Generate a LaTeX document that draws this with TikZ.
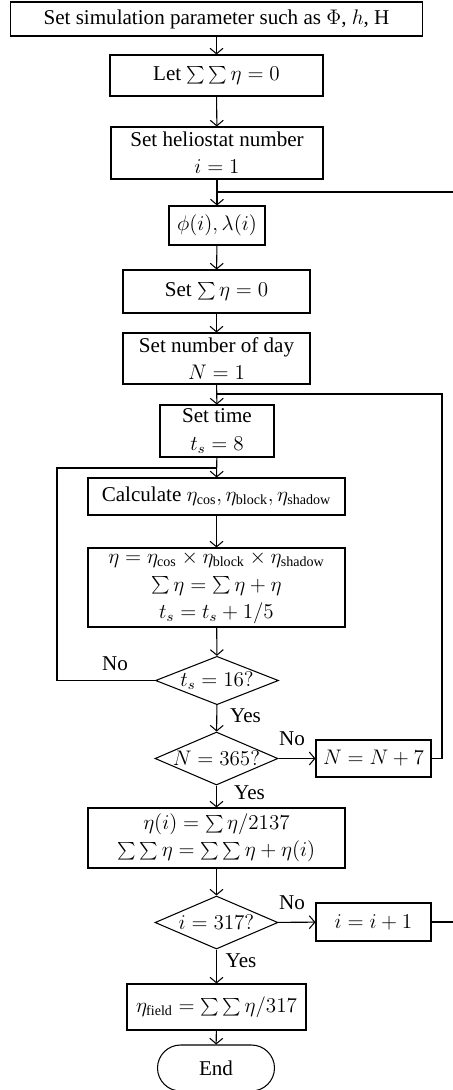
\documentclass[tikz,border=0pt]{standalone}
\usepackage{fontspec}
\setmainfont{Liberation Serif}
\usetikzlibrary{arrows.meta,positioning,shapes.geometric}
\tikzset{
  >={Straight Barb[length=1.1mm,width=2.6mm]},
  stepbox/.style={draw,line width=0.6pt,align=center,inner sep=1pt,
    font=\fontsize{12}{15.5}\selectfont},
  test/.style={diamond,draw,line width=0.6pt,inner sep=0pt,shape aspect=2.4,
    minimum width=24.6mm,font=\fontsize{12}{14}\selectfont},
  stop/.style={draw,line width=0.6pt,rounded corners=4.6mm,minimum width=23.4mm,
    minimum height=9.2mm,font=\fontsize{12}{14}\selectfont},
  flow/.style={->,line width=0.6pt},
  back/.style={line width=0.6pt},
  tag/.style={inner sep=0pt,font=\fontsize{12}{14}\selectfont},
}
\begin{document}
\begin{tikzpicture}[x=0.02cm,y=-0.02cm]
  \useasboundingbox (0,0) rectangle (453,1090);
  \clip (0,0) rectangle (453,1090);
  % main column
  \node[stepbox,minimum width=82.6mm,minimum height=6.8mm] (param) at (216.5,19) {Set simulation parameter such as $\Phi$, $h$, H};
  \node[stepbox,minimum width=42.6mm,minimum height=8.2mm] (total) at (216.5,75.5) {Let $\sum\sum\eta = 0$};
  \node[stepbox,minimum width=42.4mm,minimum height=10.4mm] (helio) at (217,153) {Set heliostat number\\$i = 1$};
  \node[stepbox,minimum width=19.2mm,minimum height=7.8mm] (coord) at (217,225.5) {$\phi(i),\lambda(i)$};
  \node[stepbox,minimum width=37.4mm,minimum height=8.6mm] (sum) at (216.5,291.5) {Set $\sum\eta = 0$};
  \node[stepbox,minimum width=37.4mm,minimum height=10.2mm] (day) at (216.5,358.5) {Set number of day\\$N = 1$};
  \node[stepbox,minimum width=22.8mm,minimum height=10.4mm] (time) at (217,431) {Set time\\$t_s = 8$};
  \node[stepbox,minimum width=51.4mm,minimum height=7.4mm] (calc) at (216.5,496.5) {Calculate $\eta_{\mathrm{cos}}, \eta_{\mathrm{block}}, \eta_{\mathrm{shadow}}$};
  \node[stepbox,minimum width=51.4mm,minimum height=15.8mm] (accum) at (216.5,587.5) {$\eta = \eta_{\mathrm{cos}} \times \eta_{\mathrm{block}} \times \eta_{\mathrm{shadow}}$\\$\sum\eta = \sum\eta + \eta$\\$t_s = t_s + 1/5$};
  \node[test,minimum height=9.4mm] (hour) at (217,680.5) {$t_s = 16?$};
  \node[test,minimum height=10.6mm] (year) at (216.5,758.5) {$N = 365?$};
  \node[stepbox,minimum width=23mm,minimum height=7.4mm] (week) at (373.5,758.5) {$N = N + 7$};
  \node[stepbox,minimum width=51.4mm,minimum height=12mm] (mean) at (216.5,838) {$\eta(i) = \sum\eta/2137$\\$\sum\sum\eta = \sum\sum\eta + \eta(i)$};
  \node[test,minimum height=10.6mm] (last) at (216.5,922.5) {$i = 317?$};
  \node[stepbox,minimum width=23mm,minimum height=7.6mm] (next) at (373.5,922) {$i = i + 1$};
  \node[stepbox,minimum width=35.8mm,minimum height=9.2mm] (field) at (216.5,1007) {$\eta_{\mathrm{field}} = \sum\sum\eta/317$};
  \node[stop] (end) at (216,1068) {End};
  % straight flow
  \draw[flow] (param) -- (total);
  \draw[flow] (total) -- (helio);
  \draw[flow] (helio) -- (coord);
  \draw[flow] (coord) -- (sum);
  \draw[flow] (sum) -- (day);
  \draw[flow] (day) -- (time);
  \draw[flow] (time) -- (calc);
  \draw[flow] (calc) -- (accum);
  \draw[flow] (accum) -- (hour);
  \draw[flow] (hour) -- (year);
  \draw[flow] (year) -- (mean);
  \draw[flow] (year) -- (week);
  \draw[flow] (mean) -- (last);
  \draw[flow] (last) -- (next);
  \draw[flow] (last) -- (field);
  \draw[flow] (field) -- (end);
  % loops back
  \coordinate (joinI) at (217,192);
  \coordinate (joinN) at (217,394);
  \coordinate (joinT) at (217,468);
  \draw[back] (next.east) -- (460,922) |- (joinI);
  \draw[back] (week.east) -- (442,758.5) |- (joinN);
  \draw[back] (hour.west) -- (57,680.5) |- (joinT);
  % branch labels
  \node[tag] (noT) at (115,664) {No};
  \node[tag] (yesT) at (245.5,716) {Yes};
  \node[tag] (noN) at (292,739) {No};
  \node[tag] (yesN) at (249.5,793) {Yes};
  \node[tag] (noI) at (292,903) {No};
  \node[tag] (yesI) at (241,961) {Yes};
\end{tikzpicture}
\end{document}
